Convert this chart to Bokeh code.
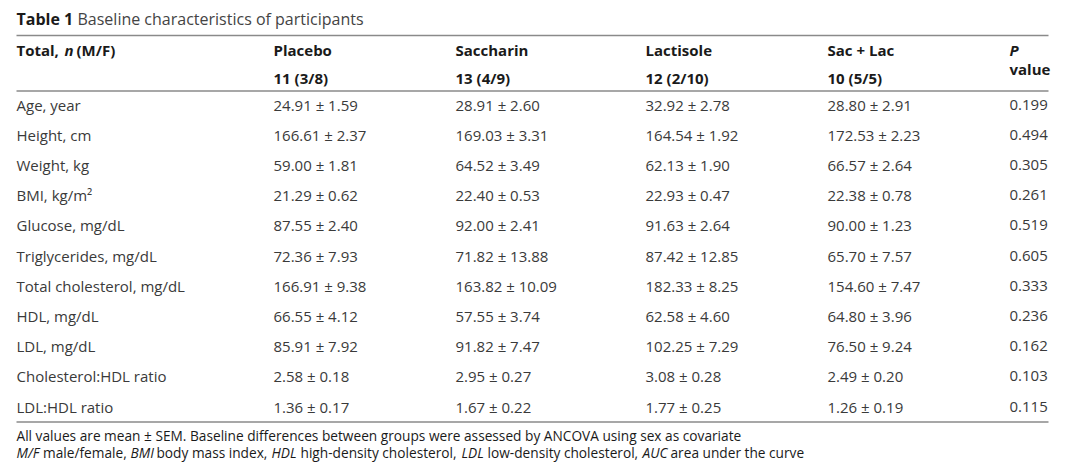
from bokeh.plotting import figure
from bokeh.models import Range1d
from bokeh.core.properties import value
from bokeh.embed import file_html
from bokeh.resources import INLINE

# ---- data ----
title_bold = "Table 1"
title_rest = "Baseline characteristics of participants"
groups = ["Placebo", "Saccharin", "Lactisole", "Sac + Lac"]
group_n = ["11 (3/8)", "13 (4/9)", "12 (2/10)", "10 (5/5)"]
row_labels = ["Age, year", "Height, cm", "Weight, kg", "BMI, kg/m\u00b2", "Glucose, mg/dL",
              "Triglycerides, mg/dL", "Total cholesterol, mg/dL", "HDL, mg/dL", "LDL, mg/dL",
              "Cholesterol:HDL ratio", "LDL:HDL ratio"]
placebo_mean = [24.91, 166.61, 59.00, 21.29, 87.55, 72.36, 166.91, 66.55, 85.91, 2.58, 1.36]
placebo_sem = [1.59, 2.37, 1.81, 0.62, 2.40, 7.93, 9.38, 4.12, 7.92, 0.18, 0.17]
saccharin_mean = [28.91, 169.03, 64.52, 22.40, 92.00, 71.82, 163.82, 57.55, 91.82, 2.95, 1.67]
saccharin_sem = [2.60, 3.31, 3.49, 0.53, 2.41, 13.88, 10.09, 3.74, 7.47, 0.27, 0.22]
lactisole_mean = [32.92, 164.54, 62.13, 22.93, 91.63, 87.42, 182.33, 62.58, 102.25, 3.08, 1.77]
lactisole_sem = [2.78, 1.92, 1.90, 0.47, 2.64, 12.85, 8.25, 4.60, 7.29, 0.28, 0.25]
saclac_mean = [28.80, 172.53, 66.57, 22.38, 90.00, 65.70, 154.60, 64.80, 76.50, 2.49, 1.26]
saclac_sem = [2.91, 2.23, 2.64, 0.78, 1.23, 7.57, 7.47, 3.96, 9.24, 0.20, 0.19]
p_values = [0.199, 0.494, 0.305, 0.261, 0.519, 0.605, 0.333, 0.236, 0.162, 0.103, 0.115]
footnote1 = "All values are mean \u00b1 SEM. Baseline differences between groups were assessed by ANCOVA using sex as covariate"
footnote2 = [("M/F", True), ("male/female,", False), ("BMI", True), ("body mass index,", False),
             ("HDL", True), ("high-density cholesterol,", False), ("LDL", True),
             ("low-density cholesterol,", False), ("AUC", True), ("area under the curve", False)]

# ---- layout ----
FONT = value("Open Sans")
W, H = 1072, 465
p = figure(width=W, height=H, output_backend="svg", toolbar_location=None,
           x_range=Range1d(0, W), y_range=Range1d(H, 0), min_border=0)
p.axis.visible = False
p.grid.visible = False
p.outline_line_color = None
p.background_fill_color = "white"
p.border_fill_color = "white"

X0, X1 = 16, 1048
col_x = [273, 455, 645, 827]
p_x = 1009
row_y0, row_dy = 104, 30.2
body_color = "#3a3a3a"
head_color = "#1a1a1a"
line_color = "#8a8a8a"
BODY = "15px"

def txt(x, y, s, size=BODY, style="normal", color=body_color):
    p.text(x=[x], y=[y], text=[s], text_font=FONT, text_font_size=size,
           text_font_style=style, text_color=color, text_baseline="middle", text_align="left")

# title
txt(X0, 18, title_bold, "16px", "bold", head_color)
txt(77, 18, title_rest, "16px", "normal", "#444444")

# rules
p.segment(x0=[X0, X0, X0], y0=[35, 90.5, 421.5], x1=[X1, X1, X1], y1=[35, 90.5, 421.5],
          line_color=line_color, line_width=1.6)

# header
txt(X0, 49, "Total,", BODY, "bold", head_color)
txt(64, 49, "n", BODY, "bold italic", head_color)
txt(76, 49, "(M/F)", BODY, "bold", head_color)
for gx, g, n in zip(col_x, groups, group_n):
    txt(gx, 49, g, BODY, "bold", head_color)
    txt(gx, 77, n, BODY, "bold", head_color)
txt(p_x, 49, "P", BODY, "bold italic", head_color)
txt(p_x, 68, "value", BODY, "bold", head_color)

# body
ys = [row_y0 + i * row_dy for i in range(len(row_labels))]
p.text(x=[X0] * len(ys), y=ys, text=row_labels, text_font=FONT, text_font_size=BODY,
       text_color=body_color, text_baseline="middle", text_align="left")
for gx, means, sems in zip(col_x, [placebo_mean, saccharin_mean, lactisole_mean, saclac_mean],
                           [placebo_sem, saccharin_sem, lactisole_sem, saclac_sem]):
    labels = [f"{m:.2f} \u00b1 {s:.2f}" for m, s in zip(means, sems)]
    p.text(x=[gx] * len(ys), y=ys, text=labels, text_font=FONT, text_font_size=BODY,
           text_color=body_color, text_baseline="middle", text_align="left")
p.text(x=[p_x] * len(ys), y=ys, text=[f"{v:.3f}" for v in p_values], text_font=FONT,
       text_font_size=BODY, text_color=body_color, text_baseline="middle", text_align="left")

# footnotes
txt(X0, 435, footnote1, "13.7px", "normal", "#1a1a1a")
seg_x = [16, 42.5, 130, 156, 271, 300, 461, 487, 642, 670]
for sx, (s, it) in zip(seg_x, footnote2):
    txt(sx, 452, s, "13.7px", "italic" if it else "normal", "#1a1a1a")

open("out.html", "w").write(file_html(p, INLINE))
